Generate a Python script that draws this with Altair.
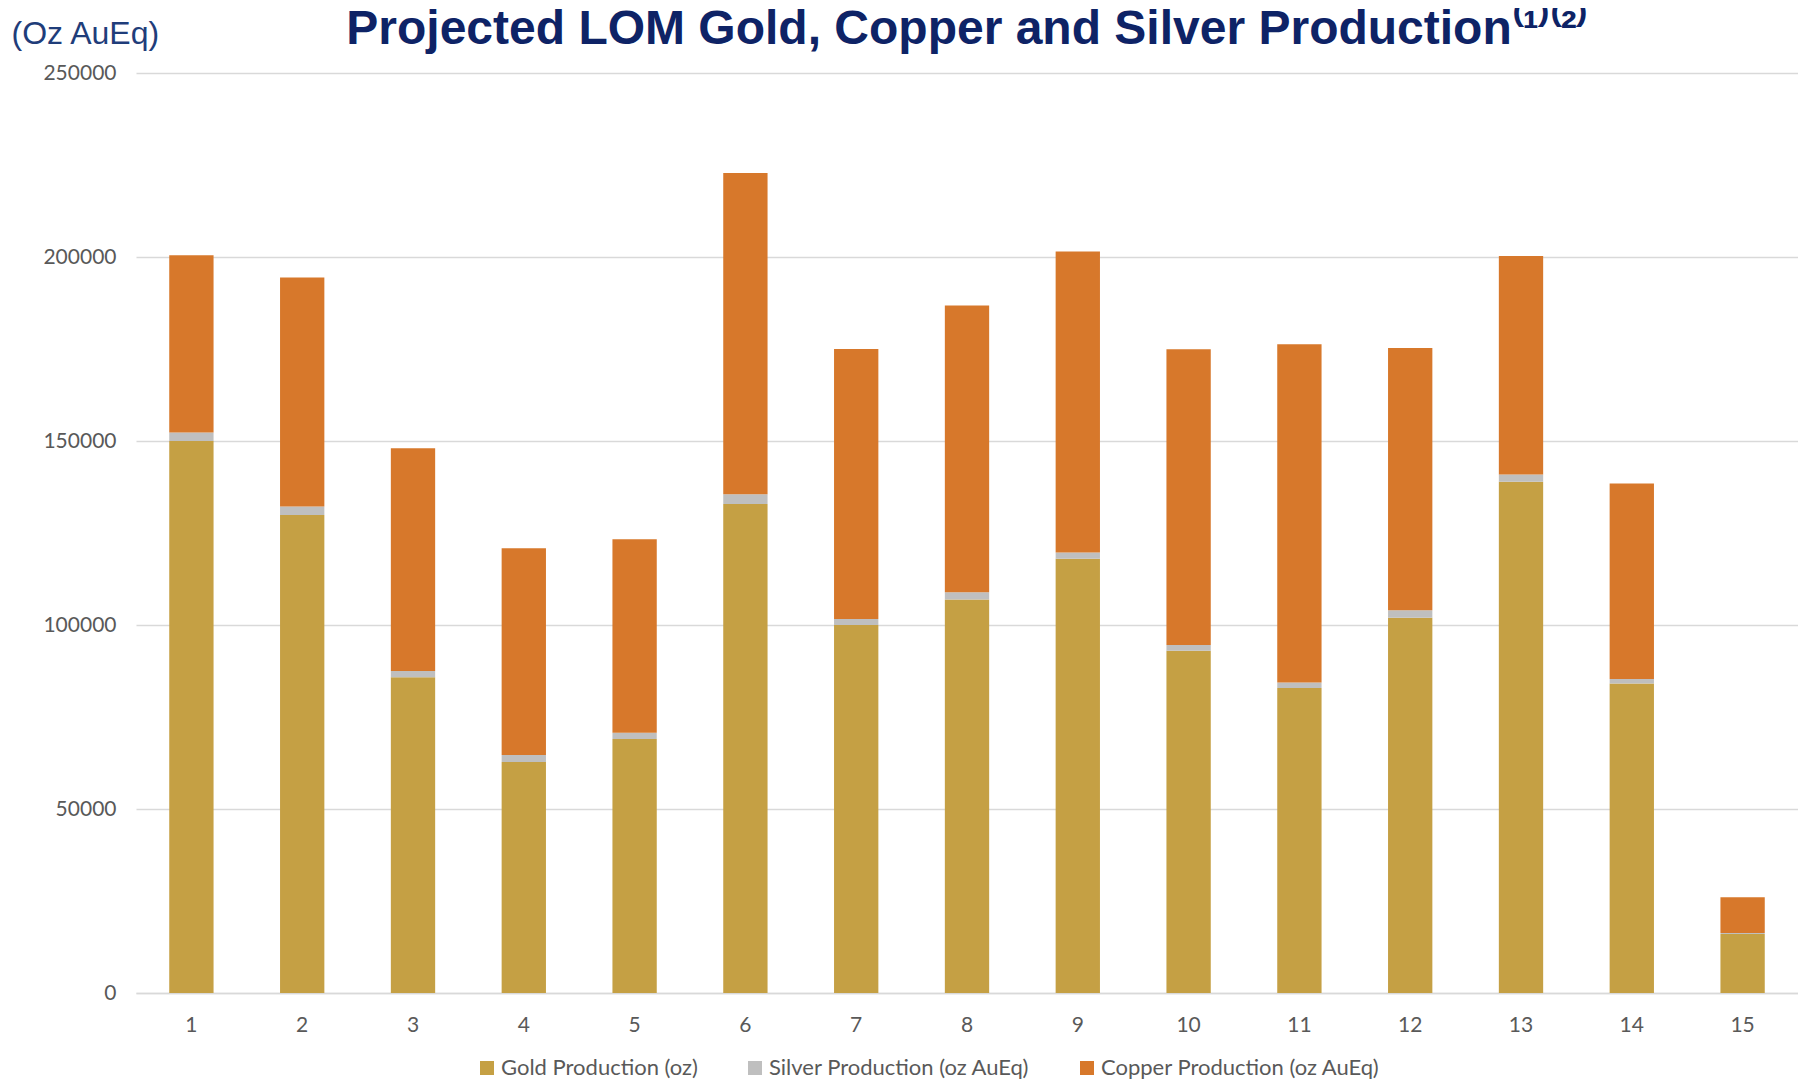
import altair as alt
import pandas as pd

years = [str(i) for i in range(1, 16)]
gold = [150000, 129900, 85800, 62800, 69000, 132900, 100000, 106900, 118000, 93000, 82900, 102000, 138900, 84100, 16000]
silver = [2300, 2300, 1700, 1850, 1700, 2600, 1600, 2000, 1700, 1550, 1500, 2000, 2000, 1250, 300]
copper = [48200, 62200, 60500, 56200, 52600, 87300, 73400, 77900, 81800, 80400, 91900, 71300, 59400, 53100, 9700]

series = ["Gold Production (oz)", "Silver Production (oz AuEq)", "Copper Production (oz AuEq)"]
colors = ["#C5A044", "#BFBFBF", "#D7782B"]
y_ticks = [0, 50000, 100000, 150000, 200000, 250000]

rows = []
for i, yr in enumerate(years):
    for k, vals in enumerate([gold, silver, copper]):
        rows.append({"year": yr, "series": series[k], "value": vals[i], "order": k})
df = pd.DataFrame(rows)

chart = alt.Chart(df).mark_bar().encode(
    x=alt.X("year:N", sort=years,
            scale=alt.Scale(paddingInner=0.6, paddingOuter=0.3),
            axis=alt.Axis(title=None, labelAngle=0, ticks=False, domain=True,
                          domainColor="#D9D9D9", domainWidth=1.5,
                          labelFont="Lato", labelFontSize=21, labelColor="#595959",
                          labelPadding=21)),
    y=alt.Y("value:Q", stack="zero",
            scale=alt.Scale(domain=[0, 250000], nice=False),
            axis=alt.Axis(values=y_ticks, format="d", ticks=False, domain=False,
                          gridColor="#D9D9D9", gridWidth=1.5,
                          labelFont="Lato", labelFontSize=21, labelColor="#595959",
                          labelPadding=20,
                          title="(Oz AuEq)", titleAngle=0, titleAlign="left",
                          titleBaseline="middle", titleX=-125, titleY=-40,
                          titleFont="Liberation Sans", titleFontSize=32,
                          titleFontWeight="normal", titleColor="#1F3D7A")),
    color=alt.Color("series:N", sort=series,
                    scale=alt.Scale(domain=series, range=colors),
                    legend=alt.Legend(title=None, orient="none", direction="horizontal",
                                      legendX=340, legendY=984,
                                      symbolType="square", symbolSize=196,
                                      symbolStrokeWidth=0, labelLimit=500,
                                      labelFont="Lato", labelFontSize=22,
                                      labelColor="#595959", labelOffset=3,
                                      columnPadding=46)),
    order=alt.Order("order:Q"),
).properties(
    width=1662,
    height=920,
    padding={"left": 128, "top": 65, "right": 0, "bottom": 90},
    autosize=alt.AutoSizeParams(type="none"),
    title=alt.TitleParams(
        text="Projected LOM Gold, Copper and Silver Production\u207d\u00b9\u207e\u207d\u00b2\u207e",
        font="Liberation Sans", fontSize=48, fontWeight="bold",
        color="#0E2366", anchor="middle", frame="group", offset=10, dy=47),
).configure_view(stroke=None)

chart.save("out.html", embed_options={"renderer": "svg", "actions": False})
